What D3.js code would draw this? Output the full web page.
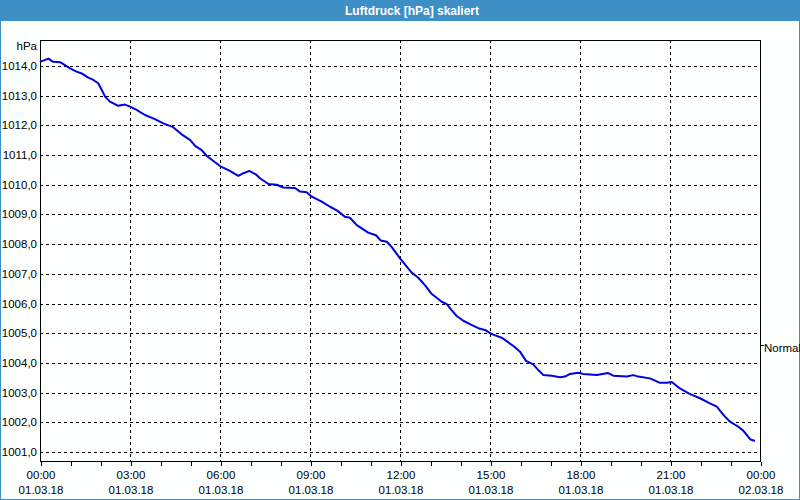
<!DOCTYPE html>
<html>
<head>
<meta charset="utf-8">
<script src="https://cdn.jsdelivr.net/npm/d3@7/dist/d3.min.js"></script>
<style>
  html, body { margin: 0; padding: 0; background: #fcfffd; }
  svg { display: block; }
  text { font-family: "Liberation Sans", Arial, sans-serif; }
</style>
</head>
<body>
<svg id="chart" width="800" height="500"></svg>
<script>
// ---- data ----
const title = "Luftdruck [hPa] skaliert";
const unitLabel = "hPa";
const normalLabel = "Normal";
const normalValue = 1004.6;
// time in hours since 01.03.18 00:00
const hours = [0.00,0.28,0.44,0.67,0.83,1.00,1.22,1.39,1.61,1.78,1.94,2.06,2.17,2.33,2.61,2.83,3.00,3.22,3.50,3.83,
  4.11,4.44,4.72,5.00,5.17,5.39,5.56,6.00,6.33,6.61,6.78,6.98,7.22,7.33,7.61,7.89,8.11,8.50,8.67,8.89,
  9.06,9.39,9.67,9.91,10.17,10.33,10.56,10.94,11.20,11.36,11.56,11.72,12.00,12.39,12.61,12.83,13.06,13.39,13.56,13.72,
  13.89,14.11,14.33,14.61,14.83,15.06,15.39,15.78,16.00,16.20,16.44,16.61,16.78,17.06,17.33,17.50,17.67,17.94,18.11,18.56,
  18.94,19.11,19.56,19.78,19.94,20.33,20.67,20.89,21.06,21.33,21.67,22.00,22.33,22.56,22.78,23.00,23.28,23.44,23.67,23.83];
const pressure = [1014.14,1014.25,1014.14,1014.13,1014.03,1013.92,1013.81,1013.75,1013.61,1013.53,1013.42,1013.19,1012.97,1012.80,1012.66,1012.70,1012.63,1012.52,1012.35,1012.21,
  1012.07,1011.94,1011.70,1011.51,1011.31,1011.17,1010.97,1010.63,1010.47,1010.30,1010.39,1010.47,1010.33,1010.22,1010.03,1010.00,1009.91,1009.89,1009.77,1009.75,
  1009.60,1009.43,1009.26,1009.13,1008.92,1008.89,1008.64,1008.39,1008.30,1008.12,1008.08,1007.91,1007.52,1007.04,1006.87,1006.62,1006.32,1006.06,1005.98,1005.78,
  1005.58,1005.42,1005.31,1005.17,1005.11,1004.97,1004.85,1004.57,1004.38,1004.07,1003.95,1003.76,1003.59,1003.57,1003.52,1003.54,1003.63,1003.67,1003.63,1003.59,
  1003.66,1003.57,1003.54,1003.59,1003.54,1003.48,1003.33,1003.33,1003.36,1003.14,1002.95,1002.81,1002.64,1002.53,1002.25,1002.02,1001.85,1001.72,1001.43,1001.37];
const xTickHours = [0,3,6,9,12,15,18,21,24];
const xTickTimes = ["00:00","03:00","06:00","09:00","12:00","15:00","18:00","21:00","00:00"];
const xTickDates = ["01.03.18","01.03.18","01.03.18","01.03.18","01.03.18","01.03.18","01.03.18","01.03.18","02.03.18"];
const yTicks = [1001,1002,1003,1004,1005,1006,1007,1008,1009,1010,1011,1012,1013,1014];

// ---- layout ----
const W = 800, H = 500;
const pLeft = 40, pRight = 760, pTop = 40, pBottom = 461;
const blue = "#3d8fc6";

const svg = d3.select("#chart");
svg.append("rect").attr("width", W).attr("height", H).attr("fill", "#fcfffd");

// title bar
svg.append("rect").attr("x", 0).attr("y", 0).attr("width", W).attr("height", 21).attr("fill", blue);
svg.append("text").attr("x", 412).attr("y", 15).attr("text-anchor", "middle")
  .attr("fill", "#ffffff").attr("font-weight", "bold").attr("font-size", "12px").text(title);
// window border
svg.append("rect").attr("x", 0.5).attr("y", 0.5).attr("width", W - 1).attr("height", H - 1)
  .attr("fill", "none").attr("stroke", blue);

const x = d3.scaleLinear().domain([0, 24]).range([pLeft, pRight]);
const y = d3.scaleLinear().domain([1000.697, 1014.876]).range([pBottom, pTop]);

// grid
const grid = svg.append("g").attr("stroke", "#000").attr("stroke-dasharray", "3,3").attr("shape-rendering", "crispEdges");
yTicks.forEach(v => {
  const yy = Math.round(y(v)) + 0.5;
  grid.append("line").attr("x1", pLeft).attr("x2", pRight).attr("y1", yy).attr("y2", yy);
});
xTickHours.slice(1, -1).forEach(h => {
  const xx = Math.round(x(h)) + 0.5;
  grid.append("line").attr("x1", xx).attr("x2", xx).attr("y1", pTop).attr("y2", pBottom);
});

// frame
svg.append("rect").attr("x", pLeft + 0.5).attr("y", pTop + 0.5).attr("width", pRight - pLeft)
  .attr("height", pBottom - pTop).attr("fill", "none").attr("stroke", "#000").attr("shape-rendering", "crispEdges");

// x axis minor/major ticks via d3 axis
const xAxis = d3.axisBottom(x).tickValues(d3.range(0, 25, 1)).tickSize(4).tickFormat("");
const gx = svg.append("g").attr("transform", `translate(0.5,${pBottom + 0.5})`).call(xAxis);
gx.select(".domain").remove();
gx.selectAll("line").attr("stroke", "#000").attr("shape-rendering", "crispEdges");

// x labels
const xl = svg.append("g").attr("font-size", "11.5px").attr("fill", "#000").attr("text-anchor", "middle");
xTickHours.forEach((h, i) => {
  xl.append("text").attr("x", x(h) + 1).attr("y", 479).text(xTickTimes[i]);
  xl.append("text").attr("x", x(h) + 1).attr("y", 494).text(xTickDates[i]);
});

// y labels
const yl = svg.append("g").attr("font-size", "11.5px").attr("fill", "#000").attr("text-anchor", "end");
yTicks.forEach(v => {
  yl.append("text").attr("x", 37).attr("y", y(v) + 4).text(d3.format(".1f")(v).replace(".", ","));
});
yl.append("text").attr("x", 37).attr("y", 50).text(unitLabel);

// right "Normal" marker
svg.append("line").attr("x1", pRight).attr("x2", pRight + 4)
  .attr("y1", Math.round(y(normalValue)) + 0.5).attr("y2", Math.round(y(normalValue)) + 0.5)
  .attr("stroke", "#000").attr("shape-rendering", "crispEdges");
svg.append("text").attr("x", 764).attr("y", y(normalValue) + 7).attr("font-size", "11.5px")
  .attr("fill", "#000").text(normalLabel);

// line
const data = hours.map((h, i) => ({ h, v: pressure[i] }));
const line = d3.line().x(d => x(d.h)).y(d => y(d.v));
svg.append("path").datum(data).attr("d", line).attr("fill", "none")
  .attr("stroke", "#0000e0").attr("stroke-width", 2).attr("stroke-linejoin", "round");
</script>
</body>
</html>
